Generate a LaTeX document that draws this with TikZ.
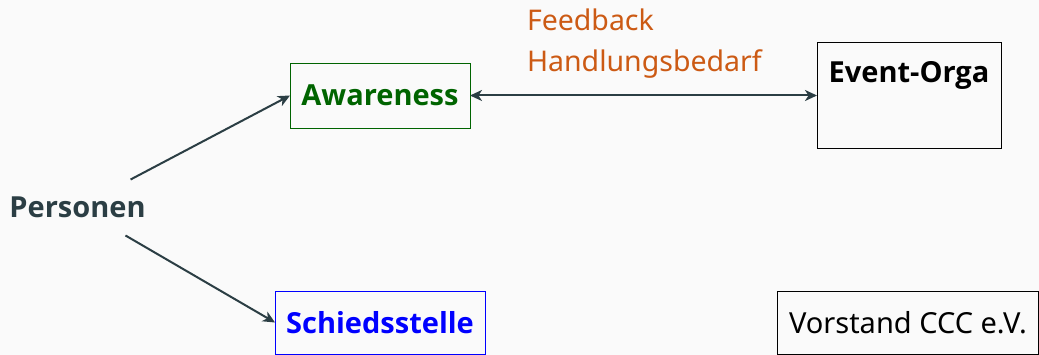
\documentclass[tikz,border=0pt]{standalone}
\usepackage{fontspec}
\setmainfont{Noto Sans}
\newfontfamily\boldsans{Open Sans}
\usetikzlibrary{arrows.meta,calc}
\definecolor{bg}{HTML}{FAFAFA}
\definecolor{slate}{HTML}{2B3E44}
\definecolor{awgreen}{HTML}{006400}
\definecolor{fborange}{HTML}{CC5A14}
\tikzset{
  lbl/.style={font=\fontsize{29}{34}\selectfont, inner sep=0pt, outer sep=0pt},
  bflbl/.style={font=\fontsize{29}{34}\selectfont\boldsans\bfseries},
  boxed/.style={draw, line width=0.9pt, inner sep=0pt, outer sep=0pt},
  conn/.style={draw=slate, line width=2pt, -{Stealth[length=12pt,width=11pt,inset=3.5pt]}},
  biconn/.style={draw=slate, line width=2pt, {Stealth[length=12pt,width=11pt,inset=3.5pt]}-{Stealth[length=12pt,width=11pt,inset=3.5pt]}}
}
\begin{document}
\begin{tikzpicture}[x=1pt,y=-1pt]
\fill[bg] (0,0) rectangle (1039,355);
\useasboundingbox (0,0) rectangle (1039,355);

\node[lbl, bflbl, text=slate, inner ysep=17.5pt] (pers) at (77.5,207.5) {Personen};

\node[lbl, boxed, bflbl, draw=awgreen, text=awgreen,
      minimum width=180pt, minimum height=65pt] (aw) at (380,95.5) {Awareness};

\node[lbl, boxed, bflbl, draw=blue, text=blue,
      minimum width=210pt, minimum height=63pt] (sch) at (380,322.5) {Schiedsstelle};

\node[boxed, draw=black, minimum width=184pt, minimum height=106pt] (eo) at (909,95) {};
\node[lbl, bflbl, anchor=base] (eot) at ($(eo.north)+(0,41)$) {Event-Orga};

\node[lbl, boxed, draw=black, anchor=west, inner xsep=12pt,
      minimum height=63pt] (vor) at (777,322.5) {Vorstand CCC e.V.\hspace{3pt}};

\node[lbl, text=fborange, align=left, anchor=base west,
      font=\fontsize{28.5}{41}\selectfont] (fb) at (527,72) {Feedback\\Handlungsbedarf};

\draw[conn] (pers) -- (aw.west);
\draw[conn] (pers) -- (sch.west);
\draw[biconn] (aw.east) -- (aw.east -| eo.west);
\end{tikzpicture}
\end{document}
